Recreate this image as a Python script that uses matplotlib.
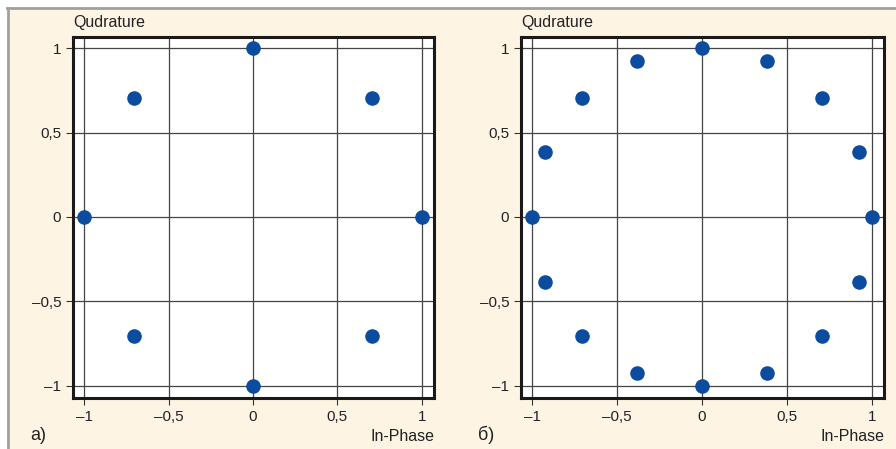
import matplotlib.pyplot as plt
import numpy as np

# 8-PSK и 16-PSK созвездия
psk8_i = [1, 0.707, 0, -0.707, -1, -0.707, 0, 0.707]
psk8_q = [0, 0.707, 1, 0.707, 0, -0.707, -1, -0.707]

psk16_i = [1, 0.924, 0.707, 0.383, 0, -0.383, -0.707, -0.924,
           -1, -0.924, -0.707, -0.383, 0, 0.383, 0.707, 0.924]
psk16_q = [0, 0.383, 0.707, 0.924, 1, 0.924, 0.707, 0.383,
           0, -0.383, -0.707, -0.924, -1, -0.924, -0.707, -0.383]

ticks = [-1, -0.5, 0, 0.5, 1]
tick_labels = ["\u20131", "\u20130,5", "0", "0,5", "1"]
panel_labels = ["а)", "б)"]

plt.rcParams['font.family'] = ['Liberation Sans Narrow', 'Liberation Sans', 'DejaVu Sans']

bg = "#fdf4e3"
fig = plt.figure(figsize=(8.96, 4.49), dpi=100)
fig.patch.set_facecolor("white")

# кремовый фон с серой рамкой слева и сверху
fig.patches.append(plt.Rectangle((8/896, 0), 1, 1 - 9/449, transform=fig.transFigure,
                                 facecolor=bg, edgecolor="none", zorder=-10))
fig.add_artist(plt.Line2D([7.5/896, 7.5/896], [0, 1 - 8/449], transform=fig.transFigure,
                          color="#a0a0a0", lw=2, zorder=-5))
fig.add_artist(plt.Line2D([7/896, 1], [1 - 8/449, 1 - 8/449], transform=fig.transFigure,
                          color="#a0a0a0", lw=2, zorder=-5))

axes_pos = [[73/896, 51/449, 361/896, 361/449],
            [521/896, 51/449, 363/896, 361/449]]
data = [(psk8_i, psk8_q), (psk16_i, psk16_q)]

for k in range(2):
    ax = fig.add_axes(axes_pos[k])
    ax.set_facecolor("white")
    x, y = data[k]
    ax.scatter(x, y, s=110, color="#0b4c9f", zorder=3, linewidths=0, clip_on=False)
    ax.set_xlim(-1.066, 1.072)
    ax.set_ylim(-1.072, 1.066)
    ax.set_xticks(ticks)
    ax.set_yticks(ticks)
    ax.set_xticklabels(tick_labels, fontsize=11)
    ax.set_yticklabels(tick_labels, fontsize=11)
    ax.tick_params(direction="out", length=5, width=0.8, color="#333333", labelcolor="#222222")
    ax.grid(True, color="#444444", linewidth=0.9)
    ax.set_axisbelow(True)
    for s in ax.spines.values():
        s.set_linewidth(2.2)
        s.set_color("#1a1a1a")
    ax.text(0, 1.02, "Qudrature", transform=ax.transAxes, ha="left", va="bottom",
            fontsize=11.5, color="#222222")
    ax.text(1, -0.085, "In-Phase", transform=ax.transAxes, ha="right", va="top",
            fontsize=11.5, color="#222222")
    fig.text(axes_pos[k][0] - 43/896, 14/449, panel_labels[k], ha="left", va="center",
             fontsize=13, color="#222222")

plt.savefig("out.png", dpi=100, facecolor=fig.get_facecolor())
